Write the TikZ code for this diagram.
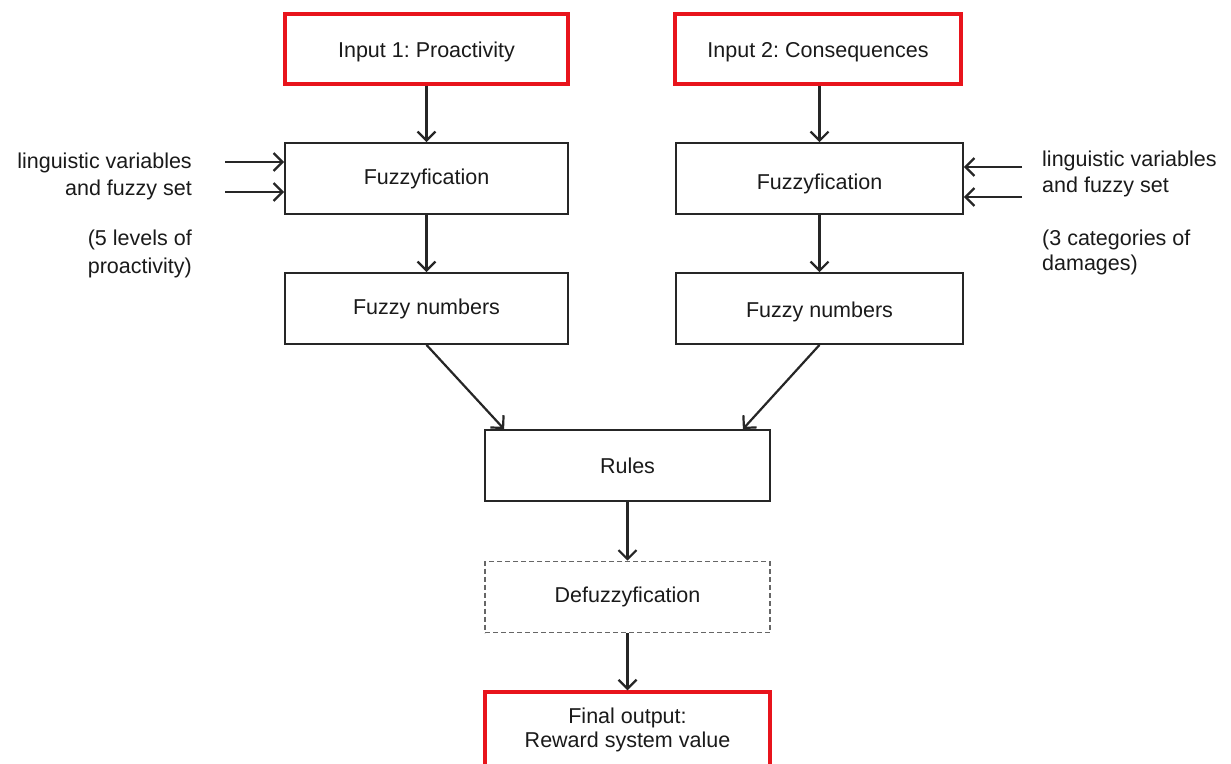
\documentclass[tikz,border=0pt]{standalone}
\usepackage{fontspec}
\setmainfont{Liberation Sans}
\usetikzlibrary{arrows.meta,calc}
\definecolor{boxred}{HTML}{E8141C}
\definecolor{txt}{HTML}{1A1A1A}
\begin{document}
\frenchspacing
\begin{tikzpicture}[x=1pt,y=-1pt,
  every node/.style={font=\frenchspacing\fontsize{21.5}{27}\selectfont, text=txt},
  stagebox/.style={draw=black!85, line width=1.8pt, minimum width=284pt, minimum height=71pt, inner sep=0pt, align=center},
  redbox/.style={stagebox, draw=boxred, line width=3.4pt},
  dashbox/.style={stagebox, draw=black!60, line width=1.6pt, dashed, dash pattern=on 5pt off 3pt},
  arr/.style={line width=2.2pt, draw=black!85, -{Straight Barb[length=9pt,width=18pt,line width=2.2pt]}},
  sidelabel/.style={inner sep=0pt}
]
\useasboundingbox (0,0) rectangle (1231,763);
\clip (0,0) rectangle (1231,763);
\fill[white] (0,0) rectangle (1231,763);

\node[redbox, minimum width=283pt, minimum height=70pt] (in1) at (426.5,49) {};
\node at (426.5,52) {Input 1: Proactivity};
\node[redbox, minimum width=286pt, minimum height=70pt] (in2) at (818,49) {};
\node at (818,52) {Input 2: Consequences};

\node[stagebox, minimum width=283pt] (fzl) at (426.5,178.5) {Fuzzyfication};
\node[stagebox, minimum width=287pt] (fzr) at (819.5,178.5) {};
\node at (819.5,184) {Fuzzyfication};

\node[stagebox, minimum width=283pt] (nml) at (426.5,308.5) {Fuzzy numbers};
\node[stagebox, minimum width=287pt] (nmr) at (819.5,308.5) {};
\node at (819.5,312) {Fuzzy numbers};

\node[stagebox, minimum width=285pt] (rules) at (627.5,465.5) {Rules};
\node[dashbox, minimum width=285pt] (defz) at (627.5,597) {Defuzzyfication};
\node[redbox, minimum width=285pt, minimum height=76pt] (final) at (627.5,730) {Final output:\\[-3pt]Reward system value};

% vertical arrows
\draw[arr] (in1) -- (fzl);
\draw[arr] (in2.south -| fzr.north) -- (fzr.north);
\draw[arr] (fzl) -- (nml);
\draw[arr] (fzr) -- (nmr);
\draw[arr] (nml.south) -- ($(rules.north west)+(20,0)$);
\draw[arr] (nmr.south) -- ($(rules.north east)+(-28,0)$);
\draw[arr] (rules) -- (defz);
\draw[arr] (defz) -- (final);

% side arrows
\coordinate (la1) at (225,162);
\coordinate (la2) at (225,192);
\coordinate (ra1) at (1022,167);
\coordinate (ra2) at (1022,197);
\draw[arr] (la1) -- (la1 -| fzl.west);
\draw[arr] (la2) -- (la2 -| fzl.west);
\draw[arr] (ra1) -- (ra1 -| fzr.east);
\draw[arr] (ra2) -- (ra2 -| fzr.east);

% side labels
\node[sidelabel, anchor=east] (ll1) at (192,163) {linguistic variables};
\node[sidelabel, anchor=east] (ll2) at (192,190) {and fuzzy set};
\node[sidelabel, anchor=east] (ll3) at (192,240) {(5 levels of};
\node[sidelabel, anchor=east] (ll4) at (192,268) {proactivity)};

\node[sidelabel, anchor=west] (rl1) at (1042,161) {linguistic variables};
\node[sidelabel, anchor=west] (rl2) at (1042,187) {and fuzzy set};
\node[sidelabel, anchor=west] (rl3) at (1042,240) {(3 categories of};
\node[sidelabel, anchor=west] (rl4) at (1042,265) {damages)};
\end{tikzpicture}
\end{document}
